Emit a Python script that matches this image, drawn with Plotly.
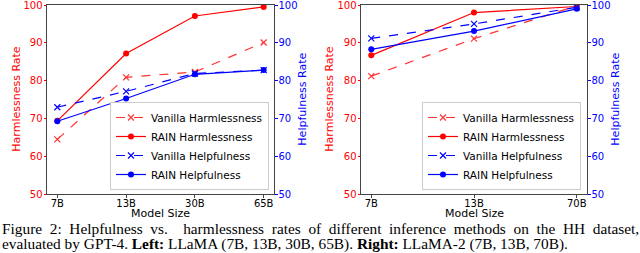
import plotly.graph_objects as go

# ---- data ----
left_sizes = ["7B", "13B", "30B", "65B"]
left_vanilla_harm = [64.5, 80.9, 82.3, 90.1]
left_rain_harm = [69.4, 87.2, 97.1, 99.5]
left_vanilla_help = [73.0, 77.2, 81.9, 82.8]
left_rain_help = [69.3, 75.3, 81.7, 82.8]

right_sizes = ["7B", "13B", "70B"]
right_vanilla_harm = [81.2, 91.1, 99.8]
right_rain_harm = [86.7, 98.0, 99.6]
right_vanilla_help = [91.2, 95.0, 99.4]
right_rain_help = [88.3, 93.1, 99.0]

y_ticks = [50, 60, 70, 80, 90, 100]

caption_line1 = "Figure 2: Helpfulness vs.  harmlessness rates of different inference methods on the HH dataset,"
caption_line2 = "evaluated by GPT-4. <b>Left:</b> LLaMA (7B, 13B, 30B, 65B). <b>Right:</b> LLaMA-2 (7B, 13B, 70B)."

RED = "#ff0000"
BLUE = "#0000ff"
FONT = "DejaVu Sans"
SPINE = "#444444"

fig = go.Figure()


def add_series(xs, vh, rh, vp, rp, xa, ya1, ya2, leg):
    fig.add_trace(go.Scatter(x=xs, y=vh, name="Vanilla Harmlessness", mode="lines+markers",
                             line=dict(color=RED, dash="dash", width=1.2),
                             marker=dict(symbol="x-thin", size=6, line=dict(color=RED, width=1.2)),
                             xaxis=xa, yaxis=ya1, legend=leg, opacity=0.8))
    fig.add_trace(go.Scatter(x=xs, y=rh, name="RAIN Harmlessness", mode="lines+markers",
                             line=dict(color=RED, width=1.2),
                             marker=dict(symbol="circle", size=6, color=RED),
                             xaxis=xa, yaxis=ya1, legend=leg))
    fig.add_trace(go.Scatter(x=xs, y=vp, name="Vanilla Helpfulness", mode="lines+markers",
                             line=dict(color=BLUE, dash="dash", width=1.2),
                             marker=dict(symbol="x-thin", size=6, line=dict(color=BLUE, width=1.2)),
                             xaxis=xa, yaxis=ya2, legend=leg))
    fig.add_trace(go.Scatter(x=xs, y=rp, name="RAIN Helpfulness", mode="lines+markers",
                             line=dict(color=BLUE, width=1.2),
                             marker=dict(symbol="circle", size=6, color=BLUE),
                             xaxis=xa, yaxis=ya2, legend=leg))


add_series(left_sizes, left_vanilla_harm, left_rain_harm, left_vanilla_help, left_rain_help,
           "x", "y", "y2", "legend")
add_series(right_sizes, right_vanilla_harm, right_rain_harm, right_vanilla_help, right_rain_help,
           "x2", "y3", "y4", "legend2")

W, H = 640, 253
ybot = (H - 194.3) / H
ytop = (H - 5) / H
lx0, lx1 = 47 / W, 274 / W
rx0, rx1 = 361 / W, 587 / W

common_x = dict(type="category", showline=True, linecolor=SPINE, linewidth=1, mirror=True,
                ticks="outside", ticklen=2.5, tickcolor=SPINE, automargin=False,
                tickfont=dict(family=FONT, size=10, color="black"), ticklabelstandoff=-3,
                showgrid=False, zeroline=False)


def yax(color, side, anchor, overlay=None):
    d = dict(range=[50, 100], tickvals=y_ticks, showline=True, linecolor=SPINE, linewidth=1,
             ticks="outside", ticklen=2.5, tickcolor=color, ticklabeloverflow="allow",
             automargin=False, ticklabelstandoff=-1,
             tickfont=dict(family=FONT, size=10, color=color), showgrid=False, zeroline=False,
             side=side, anchor=anchor, domain=[ybot, ytop])
    if overlay:
        d["overlaying"] = overlay
    return d


leg_common = dict(xanchor="right", yanchor="bottom", bgcolor="white", bordercolor="#cccccc",
                  borderwidth=1, font=dict(family=FONT, size=10.5, color="black"),
                  itemwidth=30, tracegroupgap=0)

fig.update_layout(
    width=W, height=H,
    margin=dict(l=0, r=0, t=0, b=0, pad=0, autoexpand=False),
    paper_bgcolor="white", plot_bgcolor="white",
    hovermode=False,
    xaxis=dict(common_x, domain=[lx0, lx1], anchor="y", range=[-0.15, 3.15]),
    xaxis2=dict(common_x, domain=[rx0, rx1], anchor="y3", range=[-0.1, 2.1]),
    yaxis=yax(RED, "left", "x"),
    yaxis2=yax(BLUE, "right", "x", overlay="y"),
    yaxis3=yax(RED, "left", "x2"),
    yaxis4=yax(BLUE, "right", "x2", overlay="y3"),
    legend=dict(leg_common, x=269 / W, y=(H - 190) / H),
    legend2=dict(leg_common, x=581 / W, y=(H - 190) / H),
)

# axis titles
title_font = dict(family=FONT, size=11)
ymid = (H - (5 + 194.3) / 2) / H
for xpx, txt, col in [(17, "Harmlessness Rate", RED), (303, "Helpfulness Rate", BLUE),
                      (330, "Harmlessness Rate", RED), (616, "Helpfulness Rate", BLUE)]:
    fig.add_annotation(x=xpx / W, y=ymid, xref="paper", yref="paper", xanchor="center",
                       yanchor="middle", textangle=-90, showarrow=False, text=txt,
                       font=dict(title_font, color=col))
for xr in ["x domain", "x2 domain"]:
    fig.add_annotation(x=0.5, y=(H - 213.5) / H, xref=xr, yref="paper", xanchor="center",
                       yanchor="middle", showarrow=False, text="Model Size",
                       font=dict(title_font, color="black"))

cap_font = dict(family="Liberation Serif", size=15.35, color="black")
fig.add_annotation(x=0, y=(H - 228.5) / H, xref="paper", yref="paper", xanchor="left", yanchor="middle",
                   showarrow=False, text=caption_line1.replace(" ", "\u2002"), font=cap_font)
fig.add_annotation(x=0, y=(H - 243.5) / H, xref="paper", yref="paper", xanchor="left", yanchor="middle",
                   showarrow=False, text=caption_line2, font=cap_font)

fig.write_html("out.html", config={"displayModeBar": False},
               post_script="document.body.style.margin='0';document.body.style.overflow='hidden';")
